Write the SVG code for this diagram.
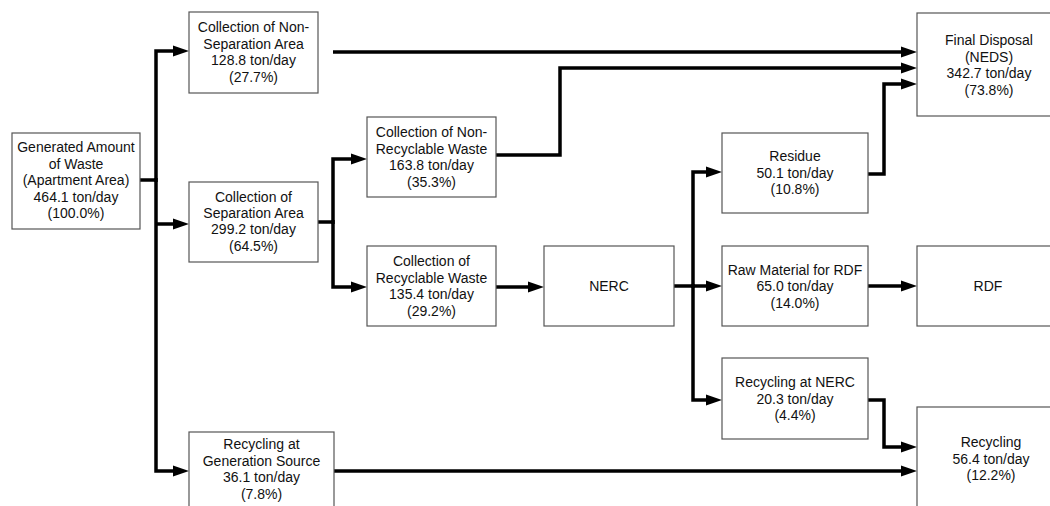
<svg xmlns="http://www.w3.org/2000/svg" width="1050" height="506" viewBox="0 0 1050 506">
<style>
.box{fill:#fff;stroke:#555;stroke-width:1.2}
.t{font-family:"Liberation Sans",Arial,sans-serif;font-size:14px;fill:#111;text-anchor:middle}
.c{fill:none;stroke:#000;stroke-width:3.5;stroke-linejoin:miter;stroke-linecap:butt}
.a{marker-end:url(#ah)}
</style>
<defs>
<marker id="ah" markerUnits="userSpaceOnUse" markerWidth="16" markerHeight="12" refX="4" refY="6" orient="auto">
<path d="M0,0.5 L16,6 L0,11.5 z" fill="#000"/>
</marker>
</defs>
<rect width="1050" height="506" fill="#fff"/>
<g id="connectors">
<path class="c" d="M140,180 H156"/>
<path class="c a" d="M156,182 V51 H177"/>
<path class="c a" d="M156,178 V471 H177"/>
<path class="c a" d="M156,224 H177"/>
<path class="c a" d="M333,52 H905"/>
<path class="c" d="M318,222 H333"/>
<path class="c a" d="M333,224 V159 H355"/>
<path class="c a" d="M333,220 V287 H355"/>
<path class="c a" d="M496,155 H560 V68 H905"/>
<path class="c a" d="M496,287 H532"/>
<path class="c" d="M674,286 H693"/>
<path class="c a" d="M693,288 V172 H710"/>
<path class="c a" d="M693,286 H710"/>
<path class="c a" d="M693,284 V400 H710"/>
<path class="c a" d="M868,174 H884 V84 H905"/>
<path class="c a" d="M868,286 H905"/>
<path class="c a" d="M868,400 H884 V447 H905"/>
<path class="c a" d="M334,471 H905"/>
</g>
<g id="gen"><rect class="box" x="12" y="133" width="128" height="96"/>
<text class="t"><tspan x="76" y="152">Generated Amount</tspan><tspan x="76" y="168.5">of Waste</tspan><tspan x="76" y="185">(Apartment Area)</tspan><tspan x="76" y="201.5">464.1 ton/day</tspan><tspan x="76" y="218">(100.0%)</tspan></text></g>
<g id="nonsep"><rect class="box" x="189" y="12" width="129" height="81"/>
<text class="t"><tspan x="253.5" y="32">Collection of Non-</tspan><tspan x="253.5" y="48.5">Separation Area</tspan><tspan x="253.5" y="65">128.8 ton/day</tspan><tspan x="253.5" y="81.5">(27.7%)</tspan></text></g>
<g id="sep"><rect class="box" x="189" y="182" width="129" height="80"/>
<text class="t"><tspan x="253.5" y="202">Collection of</tspan><tspan x="253.5" y="217.5">Separation Area</tspan><tspan x="253.5" y="234">299.2 ton/day</tspan><tspan x="253.5" y="250.5">(64.5%)</tspan></text></g>
<g id="recgen"><rect class="box" x="189" y="432" width="145" height="90"/>
<text class="t"><tspan x="261.5" y="449">Recycling at</tspan><tspan x="261.5" y="465.5">Generation Source</tspan><tspan x="261.5" y="482">36.1 ton/day</tspan><tspan x="261.5" y="498.5">(7.8%)</tspan></text></g>
<g id="nonrec"><rect class="box" x="367" y="117" width="129" height="80"/>
<text class="t"><tspan x="431.5" y="137">Collection of Non-</tspan><tspan x="431.5" y="153.5">Recyclable Waste</tspan><tspan x="431.5" y="170">163.8 ton/day</tspan><tspan x="431.5" y="186.5">(35.3%)</tspan></text></g>
<g id="rec"><rect class="box" x="367" y="246" width="129" height="80"/>
<text class="t"><tspan x="431.5" y="266">Collection of</tspan><tspan x="431.5" y="282.5">Recyclable Waste</tspan><tspan x="431.5" y="299">135.4 ton/day</tspan><tspan x="431.5" y="315.5">(29.2%)</tspan></text></g>
<g id="nerc"><rect class="box" x="544" y="246" width="130" height="80"/>
<text class="t" x="609" y="291">NERC</text></g>
<g id="final"><rect class="box" x="917" y="13" width="144" height="103"/>
<text class="t"><tspan x="989" y="45">Final Disposal</tspan><tspan x="989" y="61.5">(NEDS)</tspan><tspan x="989" y="78">342.7 ton/day</tspan><tspan x="989" y="94.5">(73.8%)</tspan></text></g>
<g id="residue"><rect class="box" x="722" y="133" width="146" height="80"/>
<text class="t"><tspan x="795" y="161">Residue</tspan><tspan x="795" y="177.5">50.1 ton/day</tspan><tspan x="795" y="194">(10.8%)</tspan></text></g>
<g id="raw"><rect class="box" x="722" y="246" width="146" height="80"/>
<text class="t"><tspan x="795" y="274.5">Raw Material for RDF</tspan><tspan x="795" y="291">65.0 ton/day</tspan><tspan x="795" y="307.5">(14.0%)</tspan></text></g>
<g id="rdf"><rect class="box" x="917" y="246" width="144" height="80"/>
<text class="t" x="988" y="291">RDF</text></g>
<g id="recnerc"><rect class="box" x="722" y="358" width="146" height="81"/>
<text class="t"><tspan x="795" y="387">Recycling at NERC</tspan><tspan x="795" y="403.5">20.3 ton/day</tspan><tspan x="795" y="420">(4.4%)</tspan></text></g>
<g id="recycling"><rect class="box" x="917" y="407" width="144" height="115"/>
<text class="t"><tspan x="991" y="447">Recycling</tspan><tspan x="991" y="463.5">56.4 ton/day</tspan><tspan x="991" y="480">(12.2%)</tspan></text></g>
</svg>
